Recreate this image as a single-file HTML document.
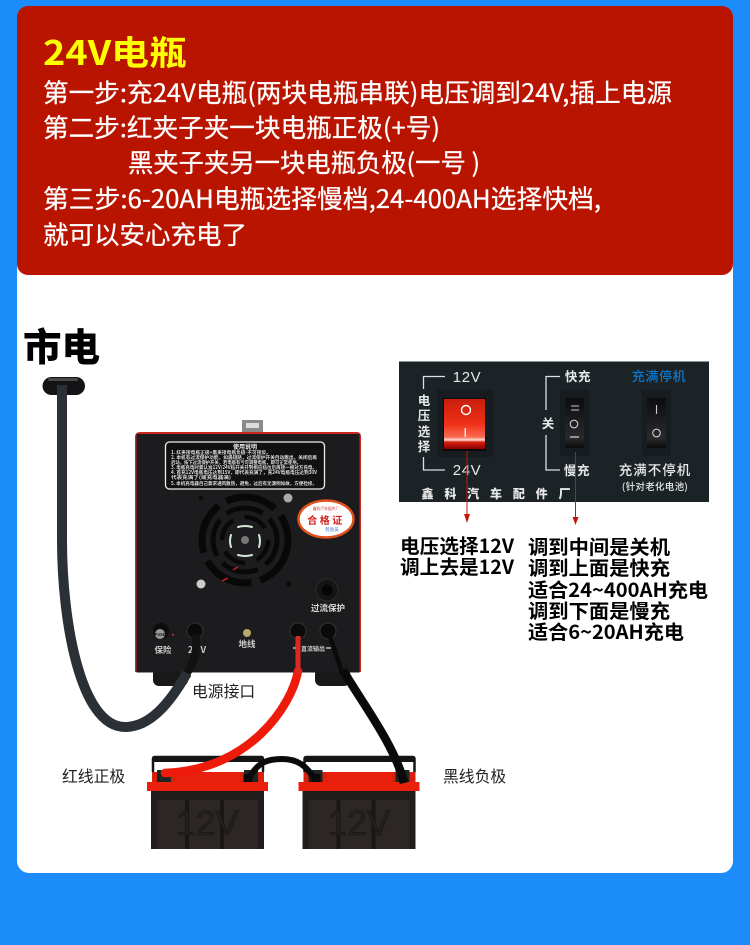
<!DOCTYPE html>
<html lang="zh"><head><meta charset="utf-8"><style>
html,body{margin:0;padding:0;width:750px;height:945px;overflow:hidden;background:#1c8cfa}
svg{display:block}
text{font-family:"Noto Sans CJK SC","Liberation Sans",sans-serif}
</style></head><body>
<svg width="750" height="945" viewBox="0 0 750 945" xmlns="http://www.w3.org/2000/svg">
<defs>
<linearGradient id="rs" x1="0" y1="0" x2="0" y2="1"><stop offset="0" stop-color="#c81e0c"/><stop offset=".5" stop-color="#f03018"/><stop offset=".76" stop-color="#f86a50"/><stop offset=".82" stop-color="#fde0d8"/><stop offset=".86" stop-color="#d82010"/><stop offset="1" stop-color="#800"/></linearGradient>
<linearGradient id="ps" x1="0" y1="0" x2="0" y2="1"><stop offset="0" stop-color="#0c0c0e"/><stop offset=".8" stop-color="#2a2a2c"/><stop offset="1" stop-color="#0a0a0a"/></linearGradient>
<g id="batt">
<path d="M153 772V759Q153 757 155 757H261Q263 757 263 759V772" fill="none" stroke="#151515" stroke-width="2.500"/>
<rect x="153" y="756" width="110" height="6" fill="#151515"/>
<rect x="176" y="772" width="64" height="11" fill="#e8200c"/>
<rect x="152" y="772" width="24" height="11" fill="#d8200c"/>
<rect x="157" y="770" width="14" height="13" fill="#1e2624"/>
<rect x="240" y="772" width="24" height="11" fill="#d8200c"/>
<rect x="244" y="770" width="14" height="13" fill="#1e2624"/>
<rect x="151" y="790" width="113" height="59" fill="#211d1c"/>
<rect x="157" y="800" width="101" height="49" fill="#2c2726"/>
<path d="M187 800V849M222 800V849" stroke="#1a1616" stroke-width="4"/>
<rect x="147" y="782" width="121" height="9" fill="#e8200c"/>
<text x="207.500" y="835" font-size="35" fill="#242020" stroke="#171313" stroke-width=".6" text-anchor="middle" style="font-family:'Liberation Sans',sans-serif">12V</text>
</g>
</defs>
<rect x="17" y="240" width="716" height="633" rx="12" fill="#fff"/>
<rect x="17" y="6" width="716" height="269" rx="11" fill="#b81400"/>
<text x="43" y="65" font-size="34" font-weight="700" fill="#ffff00" textLength="144" lengthAdjust="spacingAndGlyphs">24V电瓶</text>
<g font-size="25.5" fill="#fff" stroke="#fff" stroke-width=".25">
<text x="43" y="102" textLength="629" lengthAdjust="spacingAndGlyphs">第一步:充24V电瓶(两块电瓶串联)电压调到24V,插上电源</text>
<text x="43" y="137" textLength="397" lengthAdjust="spacingAndGlyphs">第二步:红夹子夹一块电瓶正极(+号)</text>
<text x="128" y="172" textLength="352" lengthAdjust="spacingAndGlyphs">黑夹子夹另一块电瓶负极(一号 )</text>
<text x="43" y="208" textLength="558" lengthAdjust="spacingAndGlyphs">第三步:6-20AH电瓶选择慢档,24-400AH选择快档,</text>
<text x="43" y="244" textLength="204" lengthAdjust="spacingAndGlyphs">就可以安心充电了</text>
</g>
<text x="23" y="361" font-size="38.5" font-weight="900" fill="#000">市电</text>

<!-- charger -->
<rect x="242" y="420" width="21" height="13" fill="#8a8a8a"/>
<rect x="246" y="423" width="13" height="5" fill="#ddd"/>
<rect x="153" y="668" width="35" height="18" rx="6" fill="#181818"/>
<rect x="315" y="668" width="35" height="18" rx="6" fill="#181818"/>
<path d="M135 672V437Q135 432 140 432H357Q361 432 361 437V672Z" fill="#c8281e"/>
<rect x="136.500" y="434" width="223" height="238.500" fill="#1c1c1e"/>
<rect x="165.500" y="442" width="159" height="47" rx="4" fill="#111" stroke="#eee" stroke-width="1.300"/>
<text x="245" y="449" font-size="6" font-weight="700" fill="#eee" text-anchor="middle">使用说明</text>
<g font-size="4.800" fill="#ddd" font-weight="700">
<text x="171" y="454" textLength="100" lengthAdjust="spacingAndGlyphs">1. 红夹接电瓶正极+黑夹接电瓶负极-不可接反。</text>
<text x="171" y="459" textLength="146" lengthAdjust="spacingAndGlyphs">2. 本机有过流保护功能，如遇短路，过流保护开关自动跳出，关闭后再</text>
<text x="171" y="464" textLength="130" lengthAdjust="spacingAndGlyphs">启动，按下过流保护开关，若电瓶有亏可调整电瓶，即可正常使用。</text>
<text x="171" y="469" textLength="146" lengthAdjust="spacingAndGlyphs">3. 电瓶充电时要认准12V/24V档开关开到相应档位后再接一根对方充电。</text>
<text x="171" y="474" textLength="146" lengthAdjust="spacingAndGlyphs">4. 首充12V电瓶电压达到15V，即代表充满了，充24V电瓶电压达到30V</text>
<text x="171" y="479" textLength="60" lengthAdjust="spacingAndGlyphs">代表充满了(或充电器满)</text>
<text x="171" y="485" textLength="146" lengthAdjust="spacingAndGlyphs">5. 本机充电器自己要求通风散热，避免，过后有无源例如故，方便检修。</text>
</g>
<circle cx="201" cy="498" r="2.500" fill="#0c0c0c"/>
<circle cx="288" cy="498" r="4.500" fill="#aaa"/>
<circle cx="289" cy="584" r="2.500" fill="#0c0c0c"/>
<circle cx="201" cy="584" r="4.500" fill="#ccc"/>
<!-- fan -->
<g fill="none" stroke="#080808">
<circle cx="245" cy="540" r="43" stroke-width="7" stroke-dasharray="52 9"/>
<circle cx="245" cy="540" r="32" stroke-width="5" stroke-dasharray="38 9" stroke-dashoffset="10"/>
<circle cx="245" cy="540" r="23" stroke-width="4.500" stroke-dasharray="24 12"/>
</g>
<g fill="none" stroke-width="2" stroke-linecap="round" stroke="#cfe8d8">
<path d="M238 527Q245 525 252 527"/><path d="M238 555Q245 557 252 555"/><path d="M231 535Q229 541 231 547"/><path d="M259 535Q261 541 259 547"/>
</g>
<circle cx="245" cy="540" r="4" fill="#777"/>
<path d="M233 570L238 567M222 581L228 578" stroke="#d22" stroke-width="1.300"/>
<!-- cert -->
<ellipse cx="326" cy="519" rx="27.500" ry="18.500" fill="#fff" stroke="#e0501c" stroke-width="2.500"/>
<text x="326" y="524" font-size="10" font-weight="700" fill="#d02018" text-anchor="middle" letter-spacing="2.500">合格证</text>
<text x="326" y="510" font-size="3.800" fill="#c33" text-anchor="middle">鑫科汽车配件厂</text>
<text x="332" y="531" font-size="4.500" fill="#36c" text-anchor="middle">检验员</text>
<!-- knob -->
<circle cx="327" cy="590" r="11" fill="#141414" stroke="#2c2c2c"/>
<circle cx="327" cy="590" r="5.500" fill="#050505"/>
<text x="328" y="611" font-size="8.500" font-weight="700" fill="#ddd" text-anchor="middle">过流保护</text>
<!-- fuse/sockets -->
<circle cx="161" cy="631" r="8" fill="#0c0c0c"/>
<circle cx="160" cy="634" r="5" fill="#999"/>
<text x="160" y="636" font-size="4" font-weight="700" fill="#111" text-anchor="middle">FUSE</text>
<rect x="172" y="634" width="2" height="1.500" fill="#c33"/>
<text x="163" y="653" font-size="8.500" fill="#ccc" text-anchor="middle" font-weight="700">保险</text>
<text x="197" y="653" font-size="9" fill="#ccc" text-anchor="middle" font-weight="700">24 V</text>
<circle cx="195" cy="631" r="8" fill="#0a0a0a" stroke="#333"/>
<circle cx="247" cy="633" r="4" fill="#b8a868"/>
<text x="247" y="647" font-size="8.500" fill="#ccc" text-anchor="middle" font-weight="700">地线</text>
<circle cx="298" cy="631" r="8" fill="#0a0a0a" stroke="#333"/>
<circle cx="328" cy="631" r="8" fill="#0a0a0a" stroke="#333"/>
<text x="313" y="651" font-size="6" fill="#ccc" text-anchor="middle" font-weight="700">直流输出</text>
<path d="M293 648H299M296 645V651M326 648H331" stroke="#ddd" stroke-width="1.300"/>

<!-- batteries -->
<use href="#batt"/>
<use href="#batt" transform="translate(151.500,0)"/>
<!-- cables -->
<path d="M250 777C258 762 268 759 282 759C298 759 306 766 314 778" fill="none" stroke="#0a0a0a" stroke-width="6"/>
<path d="M248 782V774M316 782V774" stroke="#0a0a0a" stroke-width="9"/>
<path d="M62 393V540C62 620 80 727 125 727C150 727 170 703 187 673" fill="none" stroke="#2a3036" stroke-width="10"/>
<path d="M187 673C195 660 198 650 195 634" fill="none" stroke="#111" stroke-width="8"/>
<path d="M298 671C292 705 250 770 165 773" fill="none" stroke="#ee1a0a" stroke-width="8.500" stroke-linecap="round"/>
<path d="M298 636V674" stroke="#d82a20" stroke-width="5"/>
<path d="M329 634L342 672" stroke="#0a0a0a" stroke-width="4.500"/>
<path d="M343 670C360 700 395 745 404 783" fill="none" stroke="#0a0a0a" stroke-width="8.500"/>
<rect x="42.500" y="377" width="42.500" height="18" rx="9" fill="#141416"/>
<rect x="48" y="378" width="30" height="3" rx="1.500" fill="#48484a"/>
<rect x="57" y="385" width="10" height="14" fill="#2a3036"/>
<text x="192" y="697" font-size="15.800" fill="#222">电源接口</text>
<text x="62" y="782" font-size="15.800" fill="#222">红线正极</text>
<text x="443" y="782" font-size="15.800" fill="#222">黑线负极</text>

<!-- panel -->
<rect x="399" y="361.500" width="310" height="140.500" fill="#1b2327"/>
<rect x="437" y="390" width="56" height="67" fill="#161c20"/>
<rect x="443" y="398" width="43" height="53" fill="#120606"/>
<rect x="444" y="399" width="41" height="50" fill="url(#rs)"/>
<circle cx="466" cy="410" r="4.500" fill="none" stroke="#fff" stroke-width="1.400"/>
<rect x="464.500" y="428" width="1.500" height="9" fill="#ffe0d8"/>
<rect x="560" y="390" width="29" height="66" fill="#161c20"/>
<rect x="565" y="398" width="19" height="50" fill="url(#ps)"/>
<path d="M571 406H579M571 410H579" stroke="#ccc" stroke-width="1"/>
<circle cx="574" cy="424" r="3.800" fill="none" stroke="#ccc" stroke-width="1.100"/>
<path d="M570 437H579" stroke="#ccc" stroke-width="1.300"/>
<rect x="642" y="390" width="29" height="66" fill="#161c20"/>
<rect x="647" y="398" width="19" height="50" fill="url(#ps)"/>
<path d="M656.500 405V414" stroke="#ccc" stroke-width="1.100"/>
<circle cx="656.500" cy="433" r="3.800" fill="none" stroke="#ccc" stroke-width="1.100"/>
<g fill="none" stroke="#dde" stroke-width="1.300">
<path d="M445 376.500H423.500V389M423.500 457V470H445"/>
<path d="M560 376.500H546V410M546 435V470H560"/>
</g>
<g fill="#e8e8e8" text-anchor="middle">
<text x="467" y="382" font-size="15" letter-spacing=".6" style="font-family:'Liberation Sans',sans-serif">12V</text>
<text x="467" y="475" font-size="15" letter-spacing=".6" style="font-family:'Liberation Sans',sans-serif">24V</text>
<g font-size="12.500" font-weight="700">
<text x="424" y="405">电</text><text x="424" y="420">压</text><text x="424" y="436">选</text><text x="424" y="451">择</text>
<text x="548" y="428">关</text>
<text x="578" y="381" letter-spacing=".6">快充</text>
<text x="577" y="475" letter-spacing=".6">慢充</text>
</g>
<text x="655" y="475" font-size="13.500" letter-spacing="1" font-weight="500">充满不停机</text>
<text x="655" y="490" font-size="9.500" letter-spacing=".3" font-weight="500">(针对老化电池)</text>
<text x="496" y="498" font-size="12" font-weight="900" textLength="149">鑫科汽车配件厂</text>
</g>
<text x="659" y="381" font-size="13" font-weight="500" fill="#0b78d0" text-anchor="middle" letter-spacing=".6">充满停机</text>
<path d="M467 451V516" stroke="#c8140a" stroke-width="1"/>
<path d="M464 514H470L467 523Z" fill="#c8140a"/>
<path d="M575.500 452V519" stroke="#c8140a" stroke-width="1"/>
<path d="M572.500 517H578.500L575.500 525Z" fill="#c8140a"/>
<g font-size="19.500" font-weight="700" fill="#000">
<text x="400" y="553" textLength="114" lengthAdjust="spacingAndGlyphs">电压选择12V</text>
<text x="400" y="574" textLength="114" lengthAdjust="spacingAndGlyphs">调上去是12V</text>
<text x="528" y="554" textLength="142" lengthAdjust="spacingAndGlyphs">调到中间是关机</text>
<text x="528" y="575" textLength="142" lengthAdjust="spacingAndGlyphs">调到上面是快充</text>
<text x="528" y="597" textLength="180" lengthAdjust="spacingAndGlyphs">适合24~400AH充电</text>
<text x="528" y="618" textLength="142" lengthAdjust="spacingAndGlyphs">调到下面是慢充</text>
<text x="528" y="639" textLength="156" lengthAdjust="spacingAndGlyphs">适合6~20AH充电</text>
</g>
</svg>
</body></html>
